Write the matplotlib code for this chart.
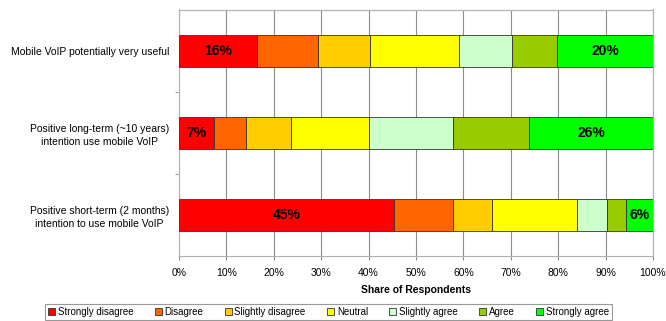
import matplotlib
matplotlib.use("Agg")
import matplotlib.pyplot as plt
import numpy as np

plt.rcParams['font.family'] = ['Liberation Sans', 'DejaVu Sans']

categories = ["Mobile VoIP potentially very useful",
              "Positive long-term (~10 years)\nintention use mobile VoIP",
              "Positive short-term (2 months)\nintention to use mobile VoIP"]
series = ["Strongly disagree", "Disagree", "Slightly disagree", "Neutral",
          "Slightly agree", "Agree", "Strongly agree"]
strongly_disagree = [16.4, 7.3, 45.4]
disagree = [13.0, 6.9, 12.5]
slightly_disagree = [11.0, 9.4, 8.2]
neutral = [18.7, 16.5, 17.9]
slightly_agree = [11.2, 17.8, 6.2]
agree = [9.5, 16.0, 4.2]
strongly_agree = [20.2, 26.1, 5.6]
xticklabels = ["0%", "10%", "20%", "30%", "40%", "50%", "60%", "70%", "80%", "90%", "100%"]

colors = ["#FF0000", "#FF6600", "#FFCC00", "#FFFF00", "#CCFFCC", "#99CC00", "#00FF00"]
data = [strongly_disagree, disagree, slightly_disagree, neutral,
        slightly_agree, agree, strongly_agree]

fig = plt.figure(figsize=(6.66, 3.21), dpi=100)
ax = fig.add_axes([179/666, 1-256/321, (653-179)/666, (256-9.5)/321])

y = np.arange(len(categories))
left = np.zeros(len(categories))
bars = []
for name, vals, c in zip(series, data, colors):
    b = ax.barh(y, vals, left=left, height=0.39, color=c, edgecolor="#333333",
                linewidth=0.6, label=name, zorder=3)
    bars.append(b)
    left = left + np.array(vals)

# labels on first and last segments
for idx in (0, len(series)-1):
    for rect, v in zip(bars[idx], data[idx]):
        ax.text(rect.get_x() + rect.get_width()/2, rect.get_y() + rect.get_height()/2,
                f"{round(v):d}%", ha="center", va="center", fontsize=10,
                fontweight="bold", zorder=4)

ax.set_xlim(0, 100)
ax.set_ylim(len(categories)-0.5, -0.5)
ax.set_xticks(np.arange(0, 101, 10))
ax.set_xticklabels(xticklabels, fontsize=7.5)
ax.set_yticks(y)
ax.set_yticklabels(categories, fontsize=7.5, linespacing=1.4)
for t in ax.get_yticklabels():
    t.set_multialignment('center')
ax.set_yticks([0.5, 1.5], minor=True)
ax.tick_params(axis='y', which='major', length=0, pad=7)
ax.tick_params(axis='y', which='minor', length=3, color="#888888", direction='out')
ax.tick_params(axis='x', length=3, color="#888888", direction='out', pad=6)
ax.xaxis.grid(True, color="#8c8c8c", linewidth=0.8, zorder=0)
for s in ax.spines.values():
    s.set_color("#b0b0b0")
    s.set_linewidth(0.8)
ax.set_xlabel("Share of Respondents", fontsize=7.5, fontweight="bold", labelpad=5)

leg = fig.legend(loc="center", bbox_to_anchor=(328.5/666, 1-312/321), ncol=7,
                 fontsize=7, frameon=True, fancybox=False, edgecolor="#808080",
                 handlelength=0.7, handleheight=0.7, handletextpad=0.3,
                 columnspacing=2.2, borderpad=0.3)
leg.get_frame().set_linewidth(0.8)

fig.savefig("out.png", dpi=100)
